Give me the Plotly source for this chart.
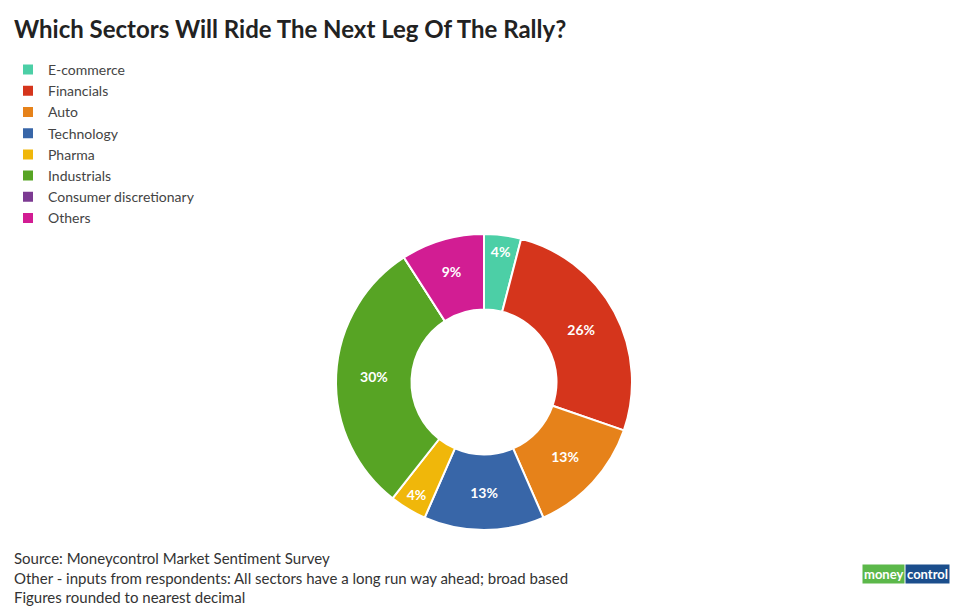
import plotly.graph_objects as go

labels = ["E-commerce", "Financials", "Auto", "Technology", "Pharma", "Industrials", "Consumer discretionary", "Others"]
values = [4, 26, 13, 13, 4, 30, 0, 9]
colors = ["#4ccfa6", "#d5351c", "#e6821a", "#3866a8", "#f0b70a", "#57a424", "#7c3a92", "#d21d93"]

W, H = 965, 610
o = 8  # page offset
fig = go.Figure(go.Pie(
    labels=labels, values=values, sort=False, direction="clockwise", rotation=0,
    hole=0.49, marker=dict(colors=colors, line=dict(color="white", width=2)),
    texttemplate="<b>%{value}%</b>", textinfo="text", textposition="inside",
    insidetextfont=dict(color="white", size=14, family="Lato"),
    insidetextorientation="horizontal",
    domain=dict(x=[(336-o)/W, (632-o)/W], y=[1-(530-o)/H, 1-(234-o)/H]),
    showlegend=True,
))
fig.update_layout(
    width=W, height=H, margin=dict(l=0, r=0, t=0, b=0),
    paper_bgcolor="white", plot_bgcolor="white",
    font=dict(family="Lato", color="#333"),
    legend=dict(x=0, y=1-(54-o)/H, xanchor="left", yanchor="top",
                font=dict(size=14, color="#444"), tracegroupgap=0, itemwidth=30,
                itemsizing="constant"),
    annotations=[
        dict(text="<b>Which Sectors Will Ride The Next Leg Of The Rally?</b>", x=(12-o)/W, y=1-(28-o)/H,
             xref="paper", yref="paper", xanchor="left", yanchor="middle", showarrow=False,
             font=dict(size=24, color="#222", family="Lato")),
        dict(text="Source: Moneycontrol Market Sentiment Survey<br>Other - inputs from respondents: All sectors have a long run way ahead; broad based<br>Figures rounded to nearest decimal",
             x=(12-o)/W, y=1-(547-o)/H, xref="paper", yref="paper", xanchor="left", yanchor="top",
             align="left", showarrow=False, font=dict(size=15, color="#333")),
        dict(text="<b>money</b>", x=(905-o)/W, y=1-(574-o)/H, xref="paper", yref="paper", xanchor="right",
             yanchor="middle", showarrow=False, bgcolor="#5cb84a", font=dict(size=13, color="white")),
        dict(text="<b>control</b>", x=(905-o)/W, y=1-(574-o)/H, xref="paper", yref="paper", xanchor="left",
             yanchor="middle", showarrow=False, bgcolor="#1b4e8c", font=dict(size=13, color="white")),
    ],
)
fig.write_html("out.html")
